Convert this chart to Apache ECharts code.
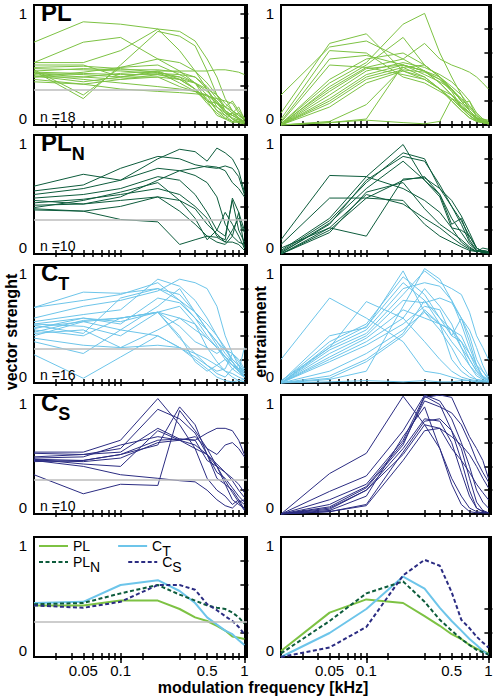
<!DOCTYPE html>
<html><head><meta charset="utf-8">
<script src="https://cdn.jsdelivr.net/npm/echarts@6/dist/echarts.min.js"></script>
<style>html,body{margin:0;padding:0;background:#fff}#c{width:498px;height:699px}</style>
</head><body><div id="c"></div><script>
// ---------------- data ----------------
const FREQ = [0.02, 0.05, 0.1, 0.2, 0.3, 0.4, 0.5, 0.6, 0.7, 0.8, 0.9, 1.0]; // kHz
const X_TICKS = [0.03, 0.04, 0.05, 0.06, 0.07, 0.08, 0.09, 0.1, 0.15, 0.3, 0.4, 0.5, 0.6, 0.7, 0.8, 0.9, 1];
const X_MAJOR = [0.1, 1];
const X_LABELS = [0.05, 0.1, 0.5, 1];
const Y_TICKS = [0.2, 0.4, 0.6, 0.8];
const Y_TICKS_FIRST = [0.325, 0.525, 0.725, 0.925];
const Y_TICKS_LAST_RIGHT = [0.2, 0.4];
const Y_LABELS = [0, 1];
const THRESHOLD = 0.29;
const N_CELLS = [18, 10, 16, 10];

const PL_VS = [
 [0.69,0.86,0.84,0.80,0.62,0.45,0.30,0.18,0.10,0.08,0.05,0.03],
 [0.52,0.69,0.73,0.55,0.52,0.45,0.35,0.25,0.15,0.10,0.06,0.02],
 [0.52,0.52,0.62,0.80,0.78,0.70,0.55,0.40,0.22,0.12,0.08,0.04],
 [0.50,0.50,0.40,0.45,0.45,0.45,0.45,0.46,0.46,0.45,0.44,0.42],
 [0.45,0.22,0.50,0.78,0.74,0.66,0.45,0.25,0.12,0.08,0.10,0.05],
 [0.46,0.25,0.48,0.55,0.45,0.35,0.20,0.08,0.05,0.10,0.15,0.05],
 [0.47,0.46,0.45,0.43,0.42,0.40,0.30,0.15,0.10,0.05,0.02,0.01],
 [0.44,0.43,0.42,0.42,0.40,0.35,0.25,0.12,0.08,0.03,0.05,0.02],
 [0.43,0.40,0.38,0.40,0.32,0.28,0.20,0.15,0.08,0.10,0.05,0.03],
 [0.42,0.38,0.35,0.32,0.30,0.28,0.25,0.20,0.10,0.06,0.04,0.02],
 [0.41,0.36,0.40,0.44,0.40,0.30,0.20,0.18,0.15,0.20,0.12,0.06],
 [0.40,0.40,0.43,0.45,0.38,0.30,0.22,0.12,0.06,0.03,0.02,0.01],
 [0.38,0.34,0.30,0.28,0.27,0.26,0.25,0.18,0.12,0.08,0.05,0.03],
 [0.45,0.47,0.46,0.46,0.44,0.40,0.32,0.22,0.15,0.12,0.08,0.05],
 [0.36,0.34,0.38,0.42,0.38,0.30,0.18,0.10,0.05,0.02,0.03,0.02],
 [0.48,0.49,0.47,0.44,0.35,0.28,0.24,0.22,0.20,0.18,0.10,0.04],
 [0.40,0.44,0.48,0.50,0.42,0.35,0.28,0.20,0.12,0.05,0.03,0.02],
 [0.43,0.42,0.40,0.40,0.38,0.35,0.30,0.25,0.18,0.12,0.06,0.03]
];
const PL_ENT = [
 [0.25,0.65,0.70,0.55,0.45,0.35,0.25,0.15,0.08,0.04,0.02,0.01],
 [0.10,0.68,0.76,0.45,0.40,0.30,0.20,0.12,0.06,0.03,0.02,0.01],
 [0.05,0.62,0.60,0.40,0.35,0.28,0.22,0.14,0.08,0.04,0.02,0.01],
 [0.03,0.55,0.58,0.50,0.45,0.35,0.25,0.16,0.10,0.05,0.02,0.02],
 [0.02,0.50,0.48,0.42,0.38,0.30,0.22,0.15,0.10,0.06,0.03,0.02],
 [0.01,0.38,0.55,0.60,0.50,0.40,0.30,0.20,0.12,0.06,0.03,0.02],
 [0.01,0.35,0.52,0.84,0.93,0.60,0.40,0.25,0.12,0.05,0.03,0.02],
 [0.01,0.30,0.48,0.55,0.68,0.55,0.50,0.47,0.44,0.40,0.35,0.30],
 [0.00,0.32,0.50,0.73,0.50,0.40,0.30,0.20,0.12,0.06,0.03,0.02],
 [0.00,0.28,0.47,0.50,0.45,0.40,0.32,0.25,0.16,0.08,0.04,0.02],
 [0.00,0.25,0.45,0.52,0.48,0.42,0.36,0.28,0.20,0.10,0.05,0.03],
 [0.00,0.22,0.42,0.50,0.42,0.36,0.30,0.22,0.14,0.08,0.04,0.02],
 [0.00,0.20,0.40,0.48,0.40,0.30,0.20,0.12,0.06,0.03,0.02,0.01],
 [0.00,0.18,0.38,0.46,0.44,0.38,0.30,0.20,0.12,0.06,0.05,0.04],
 [0.00,0.03,0.17,0.48,0.50,0.40,0.28,0.15,0.08,0.03,0.02,0.01],
 [0.00,0.02,0.05,0.50,0.45,0.38,0.28,0.22,0.15,0.10,0.05,0.02],
 [0.00,0.02,0.04,0.02,0.01,0.03,0.22,0.18,0.20,0.06,0.03,0.02],
 [0.00,0.15,0.35,0.45,0.38,0.30,0.25,0.18,0.10,0.05,0.02,0.01]
];
const PLN_VS = [
 [0.57,0.67,0.62,0.80,0.88,0.86,0.78,0.89,0.85,0.80,0.70,0.52],
 [0.53,0.58,0.72,0.82,0.80,0.75,0.73,0.72,0.74,0.72,0.65,0.50],
 [0.50,0.55,0.62,0.72,0.70,0.72,0.74,0.73,0.70,0.60,0.55,0.48],
 [0.47,0.50,0.55,0.65,0.62,0.50,0.35,0.20,0.15,0.45,0.20,0.10],
 [0.45,0.42,0.48,0.62,0.70,0.66,0.60,0.48,0.25,0.15,0.35,0.05],
 [0.43,0.46,0.50,0.55,0.50,0.40,0.30,0.15,0.12,0.47,0.35,0.20],
 [0.41,0.42,0.45,0.48,0.45,0.38,0.25,0.17,0.10,0.20,0.30,0.18],
 [0.39,0.45,0.52,0.60,0.45,0.30,0.12,0.20,0.35,0.25,0.15,0.05],
 [0.38,0.36,0.40,0.48,0.36,0.25,0.15,0.10,0.08,0.15,0.10,0.08],
 [0.37,0.36,0.29,0.27,0.08,0.12,0.15,0.14,0.10,0.10,0.08,0.03]
];
const PLN_ENT = [
 [0.12,0.66,0.65,0.55,0.45,0.35,0.22,0.10,0.05,0.02,0.03,0.02],
 [0.08,0.47,0.47,0.62,0.65,0.50,0.30,0.18,0.08,0.03,0.02,0.01],
 [0.05,0.22,0.15,0.63,0.64,0.55,0.40,0.28,0.15,0.05,0.02,0.01],
 [0.03,0.30,0.65,0.92,0.62,0.50,0.25,0.30,0.12,0.03,0.01,0.01],
 [0.02,0.28,0.60,0.85,0.80,0.55,0.45,0.32,0.18,0.05,0.02,0.01],
 [0.01,0.25,0.62,0.82,0.78,0.58,0.40,0.25,0.10,0.03,0.01,0.01],
 [0.01,0.26,0.55,0.78,0.62,0.48,0.22,0.20,0.15,0.05,0.02,0.01],
 [0.00,0.22,0.50,0.42,0.30,0.22,0.14,0.08,0.04,0.02,0.05,0.04],
 [0.00,0.20,0.47,0.45,0.25,0.15,0.10,0.06,0.03,0.02,0.02,0.01],
 [0.00,0.18,0.52,0.60,0.38,0.25,0.18,0.12,0.06,0.02,0.03,0.02]
];
const CT_VS = [
 [0.64,0.77,0.76,0.80,0.70,0.55,0.45,0.35,0.28,0.25,0.20,0.12],
 [0.64,0.70,0.75,0.85,0.70,0.60,0.45,0.32,0.22,0.15,0.10,0.06],
 [0.55,0.65,0.70,0.78,0.88,0.85,0.80,0.65,0.40,0.25,0.18,0.10],
 [0.52,0.58,0.62,0.88,0.82,0.70,0.55,0.40,0.28,0.20,0.15,0.08],
 [0.50,0.55,0.52,0.60,0.65,0.50,0.38,0.30,0.22,0.15,0.10,0.30],
 [0.49,0.42,0.72,0.80,0.75,0.60,0.45,0.35,0.25,0.18,0.12,0.08],
 [0.47,0.52,0.55,0.60,0.55,0.45,0.38,0.30,0.20,0.15,0.12,0.05],
 [0.46,0.55,0.50,0.72,0.68,0.55,0.40,0.30,0.22,0.18,0.10,0.05],
 [0.45,0.40,0.55,0.60,0.38,0.25,0.15,0.08,0.05,0.12,0.15,0.10],
 [0.43,0.53,0.55,0.60,0.48,0.35,0.30,0.25,0.30,0.18,0.10,0.05],
 [0.40,0.52,0.45,0.40,0.30,0.22,0.15,0.10,0.12,0.25,0.15,0.05],
 [0.38,0.32,0.30,0.32,0.30,0.25,0.20,0.15,0.10,0.05,0.02,0.01],
 [0.35,0.25,0.45,0.65,0.80,0.60,0.50,0.40,0.30,0.20,0.15,0.08],
 [0.24,0.04,0.22,0.40,0.30,0.20,0.12,0.05,0.02,0.01,0.02,0.03],
 [0.50,0.48,0.40,0.60,0.40,0.18,0.10,0.15,0.20,0.12,0.08,0.05],
 [0.42,0.45,0.30,0.45,0.55,0.50,0.30,0.18,0.10,0.08,0.05,0.03]
];
const CT_ENT = [
 [0.20,0.72,0.55,0.35,0.10,0.08,0.05,0.03,0.02,0.01,0.01,0.01],
 [0.02,0.30,0.69,0.55,0.35,0.20,0.10,0.05,0.03,0.02,0.01,0.01],
 [0.01,0.40,0.47,0.95,0.60,0.45,0.30,0.15,0.08,0.03,0.02,0.01],
 [0.01,0.35,0.50,0.90,0.75,0.55,0.40,0.35,0.20,0.10,0.05,0.02],
 [0.00,0.32,0.48,0.85,0.70,0.50,0.45,0.30,0.15,0.06,0.03,0.01],
 [0.00,0.30,0.45,0.80,0.85,0.82,0.70,0.55,0.40,0.20,0.10,0.03],
 [0.00,0.28,0.42,0.75,0.95,0.85,0.80,0.75,0.60,0.40,0.30,0.20],
 [0.00,0.25,0.40,0.70,0.68,0.72,0.68,0.55,0.45,0.30,0.15,0.05],
 [0.00,0.22,0.38,0.62,0.55,0.50,0.45,0.40,0.25,0.15,0.10,0.04],
 [0.00,0.20,0.35,0.55,0.80,0.65,0.50,0.30,0.20,0.10,0.05,0.02],
 [0.00,0.18,0.32,0.50,0.65,0.62,0.40,0.55,0.35,0.15,0.05,0.02],
 [0.00,0.10,0.25,0.45,0.60,0.50,0.35,0.25,0.15,0.08,0.04,0.02],
 [0.00,0.06,0.20,0.42,0.70,0.55,0.45,0.35,0.25,0.12,0.06,0.03],
 [0.00,0.04,0.18,0.40,0.62,0.50,0.20,0.10,0.05,0.03,0.02,0.01],
 [0.00,0.03,0.10,0.65,0.97,0.88,0.70,0.50,0.30,0.15,0.05,0.02],
 [0.00,0.01,0.02,0.01,0.02,0.01,0.01,0.02,0.02,0.01,0.02,0.01]
];
const CS_VS = [
 [0.52,0.52,0.62,0.97,0.75,0.55,0.50,0.40,0.25,0.20,0.12,0.08],
 [0.51,0.50,0.55,0.88,0.80,0.68,0.50,0.35,0.30,0.22,0.15,0.10],
 [0.48,0.50,0.52,0.72,0.63,0.62,0.68,0.72,0.72,0.70,0.62,0.50],
 [0.47,0.48,0.58,0.65,0.62,0.65,0.55,0.50,0.58,0.60,0.55,0.48],
 [0.46,0.45,0.50,0.62,0.63,0.62,0.45,0.40,0.35,0.30,0.25,0.18],
 [0.45,0.44,0.47,0.60,0.62,0.58,0.50,0.42,0.35,0.28,0.20,0.14],
 [0.44,0.45,0.50,0.58,0.90,0.75,0.50,0.30,0.25,0.12,0.08,0.05],
 [0.46,0.42,0.40,0.70,0.62,0.55,0.30,0.20,0.15,0.08,0.12,0.04],
 [0.45,0.40,0.33,0.30,0.28,0.27,0.20,0.12,0.07,0.05,0.10,0.03],
 [0.33,0.17,0.25,0.24,0.87,0.70,0.55,0.40,0.28,0.18,0.10,0.12]
];
const CS_ENT = [
 [0.00,0.34,0.51,0.99,0.75,0.55,0.30,0.15,0.05,0.02,0.01,0.01],
 [0.00,0.19,0.32,0.70,1.00,0.95,0.80,0.60,0.40,0.20,0.10,0.05],
 [0.00,0.12,0.25,0.62,0.99,0.92,0.70,0.45,0.20,0.05,0.02,0.01],
 [0.00,0.08,0.23,0.60,0.95,0.90,0.85,0.75,0.60,0.45,0.35,0.27],
 [0.00,0.06,0.22,0.58,0.98,1.00,0.98,0.80,0.65,0.55,0.45,0.30],
 [0.00,0.05,0.20,0.55,0.80,0.78,0.60,0.35,0.15,0.05,0.02,0.01],
 [0.00,0.04,0.20,0.50,0.75,0.72,0.55,0.45,0.35,0.25,0.18,0.12],
 [0.00,0.02,0.08,0.52,0.78,0.80,0.70,0.55,0.30,0.10,0.03,0.01],
 [0.00,0.02,0.07,0.45,0.70,0.72,0.65,0.58,0.50,0.40,0.30,0.22],
 [0.00,0.03,0.15,0.65,0.90,0.55,0.25,0.08,0.02,0.01,0.01,0.01]
];
// population averages
const AVG_VS_PL  = [0.43,0.43,0.47,0.47,0.40,0.33,0.30,0.26,0.22,0.17,0.16,0.15];
const AVG_VS_CT  = [0.45,0.46,0.60,0.64,0.55,0.45,0.33,0.27,0.22,0.19,0.14,0.10];
const AVG_VS_PLN = [0.44,0.45,0.53,0.60,0.52,0.47,0.43,0.41,0.40,0.37,0.33,0.28];
const AVG_VS_CS  = [0.43,0.41,0.46,0.60,0.60,0.56,0.44,0.39,0.34,0.30,0.25,0.19];
const AVG_ENT_PL  = [0.05,0.37,0.48,0.45,0.34,0.26,0.19,0.15,0.10,0.07,0.05,0.03];
const AVG_ENT_CT  = [0.00,0.20,0.40,0.67,0.57,0.41,0.30,0.22,0.15,0.10,0.05,0.02];
const AVG_ENT_PLN = [0.03,0.30,0.53,0.63,0.46,0.31,0.22,0.15,0.10,0.06,0.04,0.02];
const AVG_ENT_CS  = [0.00,0.08,0.25,0.68,0.81,0.76,0.54,0.31,0.24,0.17,0.12,0.08];

// ---------------- styling / layout ----------------
const FF = "'Liberation Sans', Arial, Helvetica, sans-serif";
const COLORS = { PL: '#7dc243', PL_N: '#0d5c3c', C_T: '#6dc5ea', C_S: '#2b2c82' };
const RICH_NAME = { PL: '{b|PL}', PL_N: '{b|PL}{s|N}', C_T: '{b|C}{s|T}', C_S: '{b|C}{s|S}' };
const ROWS = [
  { key: 'PL',   vs: PL_VS,  ent: PL_ENT },
  { key: 'PL_N', vs: PLN_VS, ent: PLN_ENT },
  { key: 'C_T',  vs: CT_VS,  ent: CT_ENT },
  { key: 'C_S',  vs: CS_VS,  ent: CS_ENT }
];
const rowTop = [5, 135, 265, 395, 537];
const rowH = [120, 119, 118, 119, 120];
const colLeft = [34, 281];
const colW = [213, 210];
const LOGMIN = Math.log10(0.02), LOGMAX = Math.log10(1.05);
const lg = v => Math.log10(v);
const TICK = { color: '#000', width: 1.5 };

const grids = [], xAxes = [], yAxes = [], series = [], titles = [];

function addPanel(r, c, yTicks) {
  const g = grids.length;
  grids.push({ left: colLeft[c], top: rowTop[r], width: colW[c], height: rowH[r],
    show: true, borderColor: '#000', borderWidth: 2, backgroundColor: 'rgba(0,0,0,0)',
    containLabel: false, outerBoundsMode: 'none' });
  const xi = xAxes.length;
  const xBase = { type: 'value', gridIndex: g, position: 'bottom', min: LOGMIN, max: LOGMAX,
    splitLine: { show: false } };
  xAxes.push(Object.assign({}, xBase, {
    axisLine: { show: true, lineStyle: { color: '#000', width: 2 } },
    axisTick: { show: true, inside: true, length: 4, customValues: X_TICKS.map(lg), lineStyle: TICK },
    axisLabel: { show: false } }));
  xAxes.push(Object.assign({}, xBase, {
    axisLine: { show: false },
    axisTick: { show: true, inside: false, length: 3, customValues: X_TICKS.map(lg), lineStyle: TICK },
    axisLabel: { show: r === 4, customValues: X_LABELS.map(lg), margin: 6, fontSize: 15, color: '#000', fontFamily: FF,
      formatter: v => String(parseFloat(Math.pow(10, v).toPrecision(3))) } }));
  if (r === 4) {
    xAxes.push(Object.assign({}, xBase, {
      axisLine: { show: false },
      axisTick: { show: true, inside: false, length: 6, customValues: X_MAJOR.map(lg), lineStyle: TICK },
      axisLabel: { show: false } }));
  }
  const yi = yAxes.length;
  const yBase = { type: 'value', gridIndex: g, position: 'left', min: 0, max: 1, splitLine: { show: false } };
  yAxes.push(Object.assign({}, yBase, {
    axisLine: { show: true, lineStyle: { color: '#000', width: 2 } },
    axisTick: { show: true, inside: true, length: 4, customValues: yTicks, lineStyle: TICK },
    axisLabel: { show: true, customValues: Y_LABELS, margin: 7, color: '#000', fontFamily: FF, fontSize: 15,
      formatter: v => (v >= 0.5 ? '{t|1}' : '{z|0}'),
      rich: { t: { fontSize: 15, fontFamily: FF, color: '#000', padding: [16, 0, 0, 0] },
              z: { fontSize: 15, fontFamily: FF, color: '#000', padding: [0, 0, 14, 0] } } } }));
  yAxes.push(Object.assign({}, yBase, {
    axisLine: { show: false },
    axisTick: { show: true, inside: false, length: 4, customValues: yTicks, lineStyle: TICK },
    axisLabel: { show: false } }));
  return { xi, yi };
}

function toPairs(vals) { return FREQ.map((f, i) => [lg(f), vals[i]]); }
function thresholdMark() {
  return { silent: true, symbol: 'none', label: { show: false },
    lineStyle: { color: '#bdbdbd', width: 1.5, type: 'solid' }, data: [{ yAxis: THRESHOLD }] };
}

ROWS.forEach((row, r) => {
  [row.vs, row.ent].forEach((lines, c) => {
    const ax = addPanel(r, c, (r === 0 && c === 0) ? Y_TICKS_FIRST : Y_TICKS);
    lines.forEach((vals, k) => {
      const s = { type: 'line', xAxisIndex: ax.xi, yAxisIndex: ax.yi, data: toPairs(vals),
        symbol: 'none', silent: true, animation: false, lineStyle: { color: COLORS[row.key], width: 1 }, z: 3 };
      if (c === 0 && k === 0) s.markLine = thresholdMark();
      series.push(s);
    });
  });
  titles.push({ text: RICH_NAME[row.key], left: 41, top: rowTop[r] - 6.5, padding: 0,
    textStyle: { color: '#000', fontFamily: FF,
      rich: { b: { fontSize: 24, fontWeight: 'bold', fontFamily: FF, color: '#000', lineHeight: 28, padding: [10, 0, 10, 0] },
              s: { fontSize: 18, fontWeight: 'bold', fontFamily: FF, color: '#000', lineHeight: 20, padding: [25, 0, 3, 0] } } } });
  titles.push({ text: 'n =' + N_CELLS[r], left: 40, top: rowTop[r] + rowH[r] - 15, padding: 0,
    textStyle: { fontSize: 14, fontWeight: 'normal', fontFamily: FF, color: '#000', lineHeight: 14 } });
});

// averages row
const AVG = [
  { PL: AVG_VS_PL, C_T: AVG_VS_CT, PL_N: AVG_VS_PLN, C_S: AVG_VS_CS },
  { PL: AVG_ENT_PL, C_T: AVG_ENT_CT, PL_N: AVG_ENT_PLN, C_S: AVG_ENT_CS }
];
[0, 1].forEach(c => {
  const ax = addPanel(4, c, c === 0 ? Y_TICKS : Y_TICKS_LAST_RIGHT);
  ['PL', 'C_T', 'PL_N', 'C_S'].forEach((key, k) => {
    const dashed = key === 'PL_N' || key === 'C_S';
    const s = { type: 'line', name: key, xAxisIndex: ax.xi, yAxisIndex: ax.yi, data: toPairs(AVG[c][key]),
      symbol: 'none', silent: true, animation: false, z: 3,
      itemStyle: { color: COLORS[key] },
      lineStyle: { color: COLORS[key], width: 2, type: dashed ? [4, 2.5] : 'solid' } };
    if (c === 0 && k === 0) s.markLine = thresholdMark();
    series.push(s);
  });
});

const legendText = { fontSize: 14, fontFamily: FF, color: '#000',
  rich: { b: { fontSize: 14, fontFamily: FF, color: '#000', lineHeight: 15, padding: [5, 0, 5, 0] },
          s: { fontSize: 14, fontFamily: FF, color: '#000', lineHeight: 15, padding: [10, 0, 0, 0] } } };
const legends = [
  { data: ['PL', 'C_T'], left: 38, top: 534 },
  { data: ['PL_N', 'C_S'], left: 38, top: 550 }
].map(l => Object.assign(l, { orient: 'horizontal', itemWidth: 29, itemHeight: 14, itemGap: 27, padding: 0,
  selectedMode: false, formatter: n => RICH_NAME[n], textStyle: legendText,
  itemStyle: { opacity: 0, borderWidth: 0 } }));

const chart = echarts.init(document.getElementById('c'), null, { renderer: 'svg', width: 498, height: 699 });
chart.setOption({
  animation: false,
  backgroundColor: '#fff',
  grid: grids, xAxis: xAxes, yAxis: yAxes, series: series, title: titles, legend: legends,
  graphic: [
    { type: 'text', x: 11, y: 332, rotation: Math.PI / 2, silent: true,
      style: { text: 'vector strenght', font: 'bold 16px ' + FF, fill: '#000', align: 'center', verticalAlign: 'middle', textAlign: 'center', textVerticalAlign: 'middle' } },
    { type: 'text', x: 260, y: 332, rotation: Math.PI / 2, silent: true,
      style: { text: 'entrainment', font: 'bold 16px ' + FF, fill: '#000', align: 'center', verticalAlign: 'middle', textAlign: 'center', textVerticalAlign: 'middle' } },
    { type: 'text', x: 263, y: 687, silent: true,
      style: { text: 'modulation frequency [kHz]', font: 'bold 16px ' + FF, fill: '#000', align: 'center', verticalAlign: 'middle', textAlign: 'center', textVerticalAlign: 'middle' } }
  ]
});
</script></body></html>
